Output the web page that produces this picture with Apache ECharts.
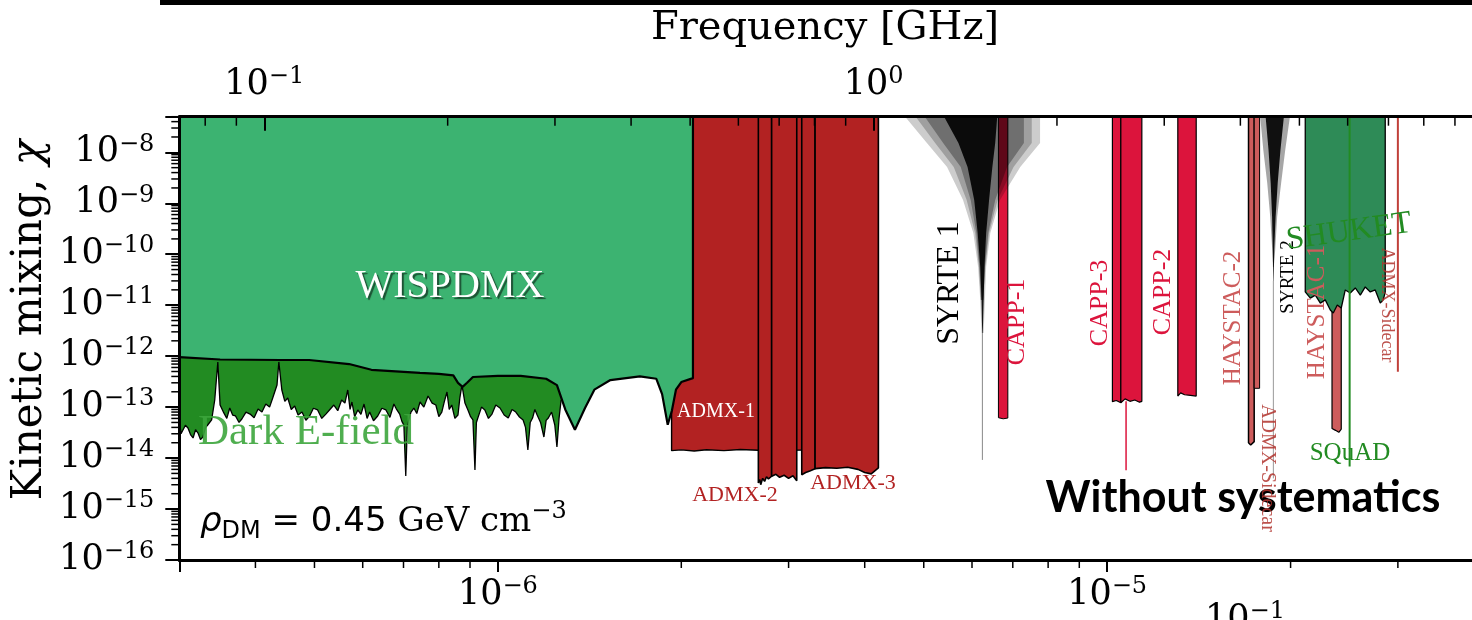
<!DOCTYPE html>
<html>
<head>
<meta charset="utf-8">
<script src="https://cdn.jsdelivr.net/npm/echarts@6/dist/echarts.min.js"></script>
<style>html,body{margin:0;padding:0;background:#fff}#main{width:1472px;height:620px}</style>
</head>
<body>
<div id="main"></div>
<script>
// axis ranges (mass in eV, kinetic mixing chi)
var massMin = 3e-7, massMax = 4e-5;
var chiMin = 1e-16, chiMax = 5e-8;
var eVperGHz = 4.1357e-6;

// minor tick values
var massMinorTicks = [4e-7, 5e-7, 6e-7, 7e-7, 8e-7, 9e-7, 2e-6, 3e-6, 4e-6, 5e-6, 6e-6, 7e-6, 8e-6, 9e-6, 2e-5, 3e-5];
var freqMinorTicks = [0.08, 0.09, 0.2, 0.3, 0.4, 0.5, 0.6, 0.7, 0.8, 0.9, 2, 3, 4, 5, 6, 7, 8, 9];
var chiDecades = [-16, -15, -14, -13, -12, -11, -10, -9, -8];
var minorMult = [2, 3, 4, 5, 6, 7, 8, 9];

// WISPDMX limit (filled to top)
var wispdmx = [[3.0e-7, 9.6e-13], [3.5e-7, 8.6e-13], [4.4e-7, 8.4e-13], [4.9e-7, 8.4e-13], [5.7e-7, 7.0e-13],
  [6.2e-7, 5.4e-13], [7.45e-7, 4.7e-13], [8.0e-7, 4.5e-13], [8.45e-7, 4.2e-13], [8.6e-7, 3.0e-13],
  [8.75e-7, 2.5e-13], [8.9e-7, 3.0e-13], [9.1e-7, 3.9e-13], [1.0e-6, 4.1e-13], [1.09e-6, 4.1e-13],
  [1.2e-6, 3.6e-13], [1.25e-6, 2.7e-13], [1.29e-6, 9.0e-14], [1.338e-6, 3.6e-14], [1.39e-6, 9.6e-14],
  [1.44e-6, 2.2e-13], [1.53e-6, 3.4e-13], [1.71e-6, 4.0e-13], [1.82e-6, 3.6e-13], [1.86e-6, 1.8e-13],
  [1.90e-6, 4.5e-14], [1.93e-6, 8.5e-14], [1.96e-6, 2.2e-13], [2.0e-6, 3.1e-13], [2.09e-6, 3.7e-13],
  [2.09e-6, 5e-8]];

// Dark E-field limit (noisy)
var darkEfield = [[3.00e-7, 5.6e-14], [3.02e-7, 3.0e-14], [3.04e-7, 3.25e-14], [3.07e-7, 4.4e-14], [3.10e-7, 3.89e-14],
  [3.13e-7, 2.9e-14], [3.16e-7, 2.48e-14], [3.19e-7, 3.6e-14], [3.22e-7, 3.1e-14], [3.25e-7, 2.3e-14],
  [3.28e-7, 2.59e-14], [3.31e-7, 3.9e-14], [3.34e-7, 4.46e-14], [3.39e-7, 5.6e-14], [3.43e-7, 1.38e-13],
  [3.47e-7, 7.7e-13], [3.50e-7, 1.10e-13], [3.55e-7, 7.7e-14], [3.59e-7, 6.0e-14], [3.63e-7, 9.6e-14],
  [3.67e-7, 7.0e-14], [3.71e-7, 6.7e-14], [3.76e-7, 5.0e-14], [3.80e-7, 5.85e-14], [3.86e-7, 8.0e-14],
  [3.92e-7, 7.3e-14], [3.98e-7, 6.2e-14], [4.04e-7, 9.2e-14], [4.10e-7, 8.0e-14], [4.16e-7, 1.15e-13],
  [4.22e-7, 1.0e-13], [4.27e-7, 1.51e-13], [4.34e-7, 2.72e-13], [4.37e-7, 7.7e-13], [4.42e-7, 2.17e-13],
  [4.47e-7, 1.3e-13], [4.52e-7, 1.51e-13], [4.58e-7, 9.0e-14], [4.64e-7, 1.05e-13], [4.70e-7, 7.0e-14],
  [4.77e-7, 8.0e-14], [4.84e-7, 5.5e-14], [4.91e-7, 6.7e-14], [4.98e-7, 9.5e-14], [5.06e-7, 8.8e-14],
  [5.14e-7, 6.0e-14], [5.22e-7, 7.3e-14], [5.30e-7, 9.0e-14], [5.38e-7, 1.10e-13], [5.46e-7, 8.5e-14],
  [5.54e-7, 1.38e-13], [5.61e-7, 1.2e-13], [5.67e-7, 2.17e-13], [5.72e-7, 9.0e-14], [5.76e-7, 1.26e-13],
  [5.82e-7, 6.5e-14], [5.89e-7, 8.8e-14], [5.96e-7, 7.2e-14], [6.03e-7, 1.15e-13], [6.10e-7, 6.0e-14],
  [6.16e-7, 8.0e-14], [6.25e-7, 5.4e-14], [6.35e-7, 6.7e-14], [6.45e-7, 9.5e-14], [6.55e-7, 8.8e-14],
  [6.65e-7, 6.3e-14], [6.75e-7, 1.15e-13], [6.82e-7, 9.0e-14], [6.90e-7, 7.3e-14], [6.96e-7, 5.2e-14],
  [7.01e-7, 4.46e-14], [7.06e-7, 4.45e-15], [7.10e-7, 4.0e-14], [7.14e-7, 5.6e-14], [7.20e-7, 8.0e-14],
  [7.28e-7, 9.6e-14], [7.36e-7, 7.5e-14], [7.45e-7, 1.26e-13], [7.56e-7, 1.0e-13], [7.68e-7, 1.65e-13],
  [7.80e-7, 1.2e-13], [7.91e-7, 1.10e-13], [8.00e-7, 6.5e-14], [8.09e-7, 8.0e-14], [8.17e-7, 1.3e-13],
  [8.25e-7, 1.98e-13], [8.32e-7, 9.0e-14], [8.40e-7, 1.10e-13], [8.50e-7, 6.0e-14], [8.60e-7, 7.0e-14],
  [8.66e-7, 1.5e-13], [8.73e-7, 2.72e-13], [8.83e-7, 1.2e-13], [8.93e-7, 8.8e-14], [9.02e-7, 6.5e-14],
  [9.10e-7, 5.6e-14], [9.17e-7, 5.83e-15], [9.22e-7, 5.0e-14], [9.27e-7, 6.1e-14], [9.40e-7, 1.0e-13],
  [9.52e-7, 8.8e-14], [9.65e-7, 6.0e-14], [9.78e-7, 7.3e-14], [9.92e-7, 1.1e-13], [1.008e-6, 9.6e-14],
  [1.024e-6, 7.0e-14], [1.04e-6, 6.1e-14], [1.055e-6, 9.0e-14], [1.07e-6, 8.0e-14], [1.085e-6, 6.4e-14],
  [1.10e-6, 5.6e-14], [1.11e-6, 4.0e-14], [1.12e-6, 1.44e-14], [1.13e-6, 5.0e-14], [1.14e-6, 6.1e-14],
  [1.15e-6, 9.0e-14], [1.16e-6, 7.0e-14], [1.175e-6, 5.0e-14], [1.19e-6, 2.59e-14], [1.20e-6, 5.5e-14],
  [1.21e-6, 6.1e-14], [1.225e-6, 8.0e-14], [1.24e-6, 4.46e-14], [1.25e-6, 1.65e-14], [1.26e-6, 6.0e-14],
  [1.27e-6, 1.38e-13]];

// ADMX
var admx1 = [[1.928e-6, 5e-8], [1.928e-6, 1.4e-14], [2.0e-6, 1.45e-14], [2.1e-6, 1.38e-14], [2.2e-6, 1.46e-14],
  [2.35e-6, 1.40e-14], [2.5e-6, 1.47e-14], [2.676e-6, 1.42e-14], [3.0e-6, 1.42e-14], [3.153e-6, 1.44e-14], [3.153e-6, 5e-8]];
var admx2a = [[2.676e-6, 5e-8], [2.676e-6, 3.24e-15], [2.69e-6, 3.8e-15], [2.70e-6, 3.0e-15], [2.72e-6, 4.0e-15],
  [2.74e-6, 3.5e-15], [2.76e-6, 4.3e-15], [2.78e-6, 3.9e-15], [2.814e-6, 4.4e-15], [2.814e-6, 5e-8]];
var admx2b = [[2.814e-6, 5e-8], [2.814e-6, 4.4e-15], [2.86e-6, 4.8e-15], [2.90e-6, 4.2e-15], [2.95e-6, 4.6e-15],
  [3.0e-6, 4.0e-15], [3.05e-6, 4.5e-15], [3.094e-6, 3.6e-15], [3.094e-6, 5e-8]];
var admx3a = [[3.153e-6, 5e-8], [3.153e-6, 4.7e-15], [3.2e-6, 5.2e-15], [3.25e-6, 5.6e-15], [3.316e-6, 6.2e-15], [3.316e-6, 5e-8]];
var admx3b = [[3.316e-6, 5e-8], [3.316e-6, 6.2e-15], [3.45e-6, 6.5e-15], [3.6e-6, 6.3e-15], [3.75e-6, 6.6e-15],
  [3.9e-6, 6.0e-15], [4.0e-6, 5.2e-15], [4.1e-6, 4.9e-15], [4.212e-6, 6.4e-15], [4.212e-6, 5e-8]];

// CAPP
var capp1 = [[6.63e-6, 5e-8], [6.63e-6, 6.2e-14], [6.75e-6, 5.9e-14], [6.87e-6, 6.1e-14], [6.87e-6, 5e-8]];
var capp3a = [[1.020e-5, 5e-8], [1.020e-5, 1.28e-13], [1.035e-5, 1.35e-13], [1.053e-5, 1.22e-13], [1.053e-5, 5e-8]];
var capp3b = [[1.053e-5, 5e-8], [1.053e-5, 1.22e-13], [1.07e-5, 1.45e-13], [1.09e-5, 1.3e-13], [1.11e-5, 1.38e-13],
  [1.13e-5, 1.25e-13], [1.14e-5, 1.3e-13], [1.14e-5, 5e-8]];
var capp3Line = [[1.074e-5, 1.3e-13], [1.074e-5, 5.8e-15]];
var capp2 = [[1.306e-5, 5e-8], [1.306e-5, 1.65e-13], [1.32e-5, 1.9e-13], [1.34e-5, 1.75e-13], [1.37e-5, 1.7e-13],
  [1.40e-5, 1.65e-13], [1.40e-5, 5e-8]];

// HAYSTAC
var haystac2a = [[1.706e-5, 5e-8], [1.706e-5, 2.0e-14], [1.72e-5, 1.8e-14], [1.743e-5, 2.1e-14], [1.743e-5, 5e-8]];
var haystac2b = [[1.743e-5, 5e-8], [1.743e-5, 2.34e-13], [1.779e-5, 2.34e-13], [1.779e-5, 5e-8]];
var haystac1 = [[2.339e-5, 5e-8], [2.339e-5, 3.8e-14], [2.37e-5, 3.5e-14], [2.40e-5, 3.2e-14], [2.422e-5, 3.7e-14], [2.422e-5, 5e-8]];

// SHUKET
var shuket = [[2.114e-5, 5e-8], [2.114e-5, 1.82e-11], [2.155e-5, 1.38e-11], [2.196e-5, 1.58e-11], [2.238e-5, 1.10e-11],
  [2.280e-5, 1.27e-11], [2.324e-5, 8.05e-12], [2.350e-5, 7.03e-12], [2.386e-5, 1.01e-11], [2.422e-5, 8.81e-12],
  [2.459e-5, 1.99e-11], [2.506e-5, 1.73e-11], [2.554e-5, 2.18e-11], [2.603e-5, 1.58e-11], [2.652e-5, 2.28e-11],
  [2.703e-5, 1.82e-11], [2.754e-5, 1.99e-11], [2.807e-5, 1.10e-11], [2.839e-5, 1.27e-11], [2.860e-5, 1.82e-11], [2.860e-5, 5e-8]];

// thin lines
var squad = [[2.5e-5, 5e-8], [2.5e-5, 6.8e-15]];
var admxSidecar = [[3.0e-5, 5e-8], [3.0e-5, 4.95e-13]];

// SYRTE funnels: nested layers, outer to core
var syrte1Layers = [
  [[4.66e-6, 5e-8], [5.06e-6, 1.52e-8], [5.46e-6, 5.15e-9], [5.80e-6, 1.16e-9], [6.03e-6, 2.61e-10], [6.14e-6, 5.62e-11],
   [6.19e-6, 1.27e-11], [6.22e-6, 2.85e-12], [6.27e-6, 2.85e-12], [6.30e-6, 1.27e-11], [6.33e-6, 5.62e-11],
   [6.43e-6, 2.61e-10], [6.67e-6, 1.16e-9], [7.20e-6, 5.15e-9], [7.76e-6, 1.52e-8], [7.76e-6, 5e-8]],
  [[4.85e-6, 5e-8], [5.22e-6, 1.52e-8], [5.60e-6, 5.15e-9], [5.88e-6, 1.16e-9], [6.07e-6, 2.61e-10], [6.16e-6, 5.62e-11],
   [6.20e-6, 1.27e-11], [6.265e-6, 1.27e-11], [6.31e-6, 5.62e-11], [6.40e-6, 2.61e-10], [6.61e-6, 1.16e-9],
   [7.02e-6, 5.15e-9], [7.52e-6, 1.52e-8], [7.52e-6, 5e-8]],
  [[5.02e-6, 5e-8], [5.38e-6, 1.52e-8], [5.75e-6, 5.15e-9], [5.97e-6, 1.16e-9], [6.10e-6, 2.61e-10], [6.17e-6, 5.62e-11],
   [6.21e-6, 1.27e-11], [6.26e-6, 1.27e-11], [6.30e-6, 5.62e-11], [6.38e-6, 2.61e-10], [6.55e-6, 1.16e-9],
   [6.85e-6, 5.15e-9], [7.30e-6, 1.52e-8], [7.30e-6, 5e-8]],
  [[5.40e-6, 5e-8], [5.70e-6, 1.52e-8], [5.90e-6, 5.15e-9], [6.05e-6, 1.16e-9], [6.13e-6, 2.61e-10], [6.19e-6, 5.62e-11],
   [6.22e-6, 1.27e-11], [6.235e-6, 2.85e-12], [6.25e-6, 2.85e-12], [6.27e-6, 1.27e-11], [6.29e-6, 5.62e-11],
   [6.33e-6, 2.61e-10], [6.40e-6, 1.16e-9], [6.48e-6, 5.15e-9], [6.55e-6, 1.52e-8], [6.60e-6, 5e-8]]
];
var syrte1Tail = [[6.24e-6, 2.85e-12], [6.24e-6, 9.2e-15]];
var syrte2Layers = [
  [[1.783e-5, 5e-8], [1.804e-5, 1.11e-8], [1.831e-5, 2.50e-9], [1.852e-5, 5.38e-10], [1.866e-5, 1.21e-10], [1.871e-5, 5.62e-11],
   [1.877e-5, 5.62e-11], [1.887e-5, 1.21e-10], [1.901e-5, 5.38e-10], [1.930e-5, 2.50e-9], [1.960e-5, 1.11e-8], [1.995e-5, 5e-8]],
  [[1.82e-5, 5e-8], [1.84e-5, 1.11e-8], [1.855e-5, 2.5e-9], [1.865e-5, 5.38e-10], [1.870e-5, 1.21e-10], [1.873e-5, 3e-11],
   [1.876e-5, 3e-11], [1.88e-5, 1.21e-10], [1.89e-5, 5.38e-10], [1.905e-5, 2.5e-9], [1.925e-5, 1.11e-8], [1.95e-5, 5e-8]]
];
var syrte2Tail = [[1.874e-5, 3e-11], [1.874e-5, 4e-15]];

var chiMinorTicks = [];
chiDecades.forEach(function (d) {
  minorMult.forEach(function (k) {
    var v = k * Math.pow(10, d);
    if (v <= chiMax * 1.0001) chiMinorTicks.push(v);
  });
});

var tickRich = {
  b: { fontFamily: 'DejaVu Serif', fontSize: 35, color: '#000', lineHeight: 40 },
  s: { fontFamily: 'DejaVu Serif', fontSize: 24, color: '#000', lineHeight: 30, verticalAlign: 'top' }
};
function powLabel(v) {
  var e = Math.log10(v), r = Math.round(e);
  if (Math.abs(e - r) > 1e-6) return '';
  return '{b|10}{s|' + (r < 0 ? '\u2212' + (-r) : r) + '}';
}

function region(data, fill, lw) {
  return { type: 'line', data: data, symbol: 'none', silent: true, clip: true,
    lineStyle: { color: '#000', width: lw },
    areaStyle: { color: fill, opacity: 1, origin: 'end' } };
}
function vline(data, color, lw) {
  return { type: 'line', data: data, symbol: 'none', silent: true, clip: true,
    lineStyle: { color: color, width: lw } };
}
function funnel(layers, alphas) {
  return { type: 'custom', silent: true, clip: true,
    data: layers.map(function (l) { return l[0]; }),
    renderItem: function (p, api) {
      return { type: 'polygon',
        shape: { points: layers[p.dataIndex].map(function (pt) { return api.coord(pt); }) },
        style: { fill: 'rgba(0,0,0,' + alphas[p.dataIndex] + ')' } };
    } };
}
function ticks(xIdx, data, dx, dy) {
  return { type: 'custom', xAxisIndex: xIdx, silent: true, clip: false, z: 95, data: data,
    renderItem: function (p, api) {
      var c = api.coord([api.value(0), api.value(1)]);
      return { type: 'line', shape: { x1: c[0], y1: c[1], x2: c[0] + dx, y2: c[1] + dy },
        style: { stroke: '#000', lineWidth: 1.5 } };
    } };
}

var RED = '#B22222', CRIMSON = '#DC143C', INDIAN = '#CD5C5C';
var series = [
  region(admx1, RED, 1.4), region(admx2a, RED, 1.6), region(admx2b, RED, 1.6),
  region(admx3a, RED, 1.6), region(admx3b, RED, 1.6),
  region(darkEfield, '#228B22', 1.3),
  region(wispdmx, '#3CB371', 2.2),
  region(capp1, CRIMSON, 1), region(capp3a, CRIMSON, 1.2), region(capp3b, CRIMSON, 1.2),
  vline(capp3Line, CRIMSON, 1.5), region(capp2, CRIMSON, 1.2),
  region(haystac2a, INDIAN, 1.5), region(haystac2b, INDIAN, 1),
  region(haystac1, INDIAN, 1.2),
  region(shuket, '#2E8B57', 1.3),
  vline(squad, '#228B22', 2), vline(admxSidecar, '#C0403A', 2),
  funnel(syrte1Layers, [0.2, 0.22, 0.3, 0.9]), vline(syrte1Tail, '#888', 1),
  funnel(syrte2Layers, [0.35, 0.9]), vline(syrte2Tail, '#999', 1)
];
// stack drawing order explicitly
series.forEach(function (s, i) { s.z = 2 + i; });
series.push(
  ticks(0, massMinorTicks.map(function (v) { return [v, chiMin]; }), 0, 8),
  ticks(1, freqMinorTicks.map(function (v) { return [v, chiMax]; }), 0, 9),
  ticks(0, chiMinorTicks.map(function (v) { return [massMin, v]; }), -8, 0)
);

function txt(t, x, y, size, color, rot, extra) {
  var st = { text: t, align: 'center', verticalAlign: 'middle',
    font: size + 'px "Liberation Serif"', fill: color };
  if (extra) for (var k in extra) st[k] = extra[k];
  return { type: 'text', x: x, y: y, rotation: rot || 0, z: 100, silent: true, style: st };
}
var R90 = Math.PI / 2;
var graphics = [
  { type: 'rect', shape: { x: 160, y: 0, width: 1312, height: 5 }, style: { fill: '#000' }, z: 100 },
  { type: 'text', x: 825, y: 29, z: 100, style: { text: 'Frequency [GHz]', align: 'center', verticalAlign: 'middle',
      font: '40px "DejaVu Serif"', fill: '#000' } },
  { type: 'text', x: 30, y: 320, rotation: R90, z: 100, style: { text: '{a|Kinetic mixing, }{c|\u03c7}',
      align: 'center', verticalAlign: 'middle', rich: {
        a: { fontFamily: 'DejaVu Serif', fontSize: 42, color: '#000' },
        c: { fontFamily: 'DejaVu Serif', fontStyle: 'italic', fontSize: 42, color: '#000' } } } },
  { type: 'text', x: 1245, y: 600, z: 100, style: { text: '{b|10}{s|\u22121}', align: 'center', verticalAlign: 'top', rich: tickRich } },
  { type: 'text', x: 200, y: 522, z: 100, style: { text: '{r|\u03c1}{d|DM}{m| = 0.45 }{u|GeV cm}{p|\u22123}',
      align: 'left', verticalAlign: 'middle', rich: {
        r: { fontFamily: 'DejaVu Sans', fontStyle: 'italic', fontSize: 34, lineHeight: 44, color: '#000' },
        d: { fontFamily: 'DejaVu Sans', fontSize: 24, lineHeight: 26, verticalAlign: 'bottom', color: '#000' },
        m: { fontFamily: 'DejaVu Sans', fontSize: 34, lineHeight: 44, color: '#000' },
        u: { fontFamily: 'DejaVu Serif', fontSize: 34, lineHeight: 44, color: '#000' },
        p: { fontFamily: 'DejaVu Serif', fontSize: 24, lineHeight: 28, verticalAlign: 'top', color: '#000' } } } },
  { type: 'text', x: 1243, y: 498, z: 100, style: { text: 'Without systematics', align: 'center', verticalAlign: 'middle',
      font: 'bold 43px Lato', fill: '#000' } },
  txt('WISPDMX', 450, 286, 40, '#fff', 0, { textShadowColor: 'rgba(0,0,0,0.55)', textShadowOffsetX: 2, textShadowOffsetY: 2, textShadowBlur: 1 }),
  txt('Dark E-field', 306, 433, 43, 'rgba(60,165,60,0.9)'),
  txt('ADMX-1', 716, 412, 20, '#fff'),
  txt('ADMX-2', 735, 495, 22, RED),
  txt('ADMX-3', 853, 483, 22, RED),
  txt('SYRTE 1', 950, 283, 32, '#000', R90),
  txt('CAPP-1', 1017, 322, 26, CRIMSON, R90),
  txt('CAPP-3', 1100, 303, 26, CRIMSON, R90),
  txt('CAPP-2', 1163, 292, 26, CRIMSON, R90),
  txt('HAYSTAC-2', 1233, 318, 25, INDIAN, R90),
  txt('SYRTE 2', 1288, 277, 19, '#000', R90),
  txt('SHUKET', 1349, 232, 32, '#228B22', 8 * Math.PI / 180),
  txt('HAYSTAC-1', 1317, 312, 25, INDIAN, R90),
  txt('ADMX-Sidecar', 1267, 468, 20, 'rgba(176,50,45,0.85)', -R90),
  txt('ADMX-Sidecar', 1387, 305, 18, 'rgba(176,50,45,0.85)', -R90),
  txt('SQuAD', 1350, 453, 25, '#228B22')
];

var chart = echarts.init(document.getElementById('main'), null, { renderer: 'canvas' });
chart.setOption({
  animation: false,
  backgroundColor: '#fff',
  grid: { left: 179.3, right: -2, top: 116.7, bottom: 60, containLabel: false, outerBoundsMode: 'none' },
  xAxis: [
    { type: 'log', min: massMin, max: massMax, position: 'bottom', z: 90,
      axisLine: { show: true, lineStyle: { color: '#000', width: 3 } },
      axisTick: { show: true, length: 12, lineStyle: { color: '#000', width: 2 } },
      axisLabel: { margin: 15, formatter: powLabel, rich: tickRich },
      splitLine: { show: false } },
    { type: 'log', min: massMin / eVperGHz, max: massMax / eVperGHz, position: 'top', z: 90,
      axisLine: { show: true, lineStyle: { color: '#000', width: 3 } },
      axisTick: { show: true, inside: true, length: 14, lineStyle: { color: '#000', width: 2 } },
      axisLabel: { margin: 12, formatter: powLabel, rich: tickRich },
      splitLine: { show: false } }
  ],
  yAxis: { type: 'log', min: chiMin, max: chiMax, z: 90,
    axisLine: { show: true, lineStyle: { color: '#000', width: 3 } },
    axisTick: { show: true, length: 14, lineStyle: { color: '#000', width: 2 } },
    axisLabel: { margin: 25, formatter: powLabel, rich: tickRich },
    splitLine: { show: false } },
  series: series,
  graphic: graphics
});
</script>
</body>
</html>
